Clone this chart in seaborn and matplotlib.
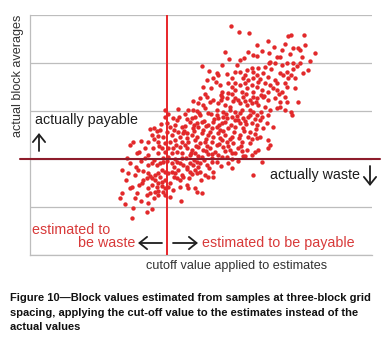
"""Block values estimated vs actual, cut-off applied to estimates."""

import matplotlib

matplotlib.use("Agg")
import matplotlib.pyplot as plt
from matplotlib.patches import FancyArrowPatch
import pandas as pd
import seaborn as sns

W, H = 389, 343
CUTOFF = 20
GRID_TICKS = [0, 10, 20, 30, 40, 50]

# estimated (x) and actual (y) block values, read off the picture region by region
est_lower_left = [14.6, 15.5, 13.5, 14.3, 15.8, 17.3, 17.8, 18.6, 19.0, 19.4, 20.0, 20.8, 21.5, 21.9, 22.4,
                  17.3, 17.5, 17.1, 17.8, 18.3, 18.7, 19.3, 19.7, 20.2, 20.8, 21.2, 21.6, 22.2,
                  16.5, 16.4, 18.3, 18.7, 19.3, 19.7, 20.5, 21.5, 21.9, 22.4,
                  14.9, 14.6, 17.8, 18.6, 19.3, 19.7, 20.2, 18.7, 19.4, 18.3, 17.5,
                  13.5, 15.6, 17.1, 13.2, 18.7, 19.7, 15.4, 17.3, 22.1, 15.1, 17.1, 14.9]
act_lower_left = [19.2, 18.3, 17.7, 17.1, 17.7, 18.8, 19.2, 18.8, 19.2, 19.4, 19.6, 19.2, 19.4, 19.2, 18.8,
                  17.1, 16.5, 16.0, 16.0, 16.7, 17.1, 17.7, 17.3, 17.1, 17.3, 17.1, 17.7, 16.7,
                  15.6, 15.0, 15.6, 15.0, 15.2, 15.6, 15.0, 16.0, 15.6, 16.3,
                  14.2, 14.0, 14.6, 14.2, 14.4, 14.0, 14.2, 13.3, 13.1, 13.1, 12.9,
                  12.9, 12.9, 12.5, 11.9, 12.5, 12.5, 11.9, 10.8, 11.3, 9.8, 9.0, 7.7]

est_lower_mid = [23.0, 23.4, 23.8, 24.4, 24.9, 24.6, 24.1, 23.4, 24.4, 24.9, 23.7, 25.9, 26.6, 27.3, 28.9,
                 25.6, 26.0, 26.8, 23.0, 23.1, 24.1, 24.4, 25.1, 32.6, 33.9, 31.4]
act_lower_mid = [18.3, 19.2, 18.8, 19.4, 19.2, 18.3, 17.7, 17.3, 17.1, 17.3, 16.9, 18.8, 19.4, 19.4, 19.2,
                 16.7, 16.3, 16.3, 14.6, 14.0, 14.0, 13.1, 12.9, 16.7, 19.4, 20.6]

est_lower_fill = [21.0, 22.9, 24.0, 25.4, 26.2, 27.9, 29.6, 23.2, 25.0, 21.0, 19.0, 16.5, 15.3, 16.0,
                  17.2, 20.9, 22.0, 16.2, 18.2, 20.5, 14.0, 13.9, 16.2, 18.1, 21.2, 26.8, 30.4, 17.8]
act_lower_fill = [18.4, 18.0, 19.8, 19.7, 18.1, 18.6, 18.2, 16.0, 15.6, 16.2, 16.3, 17.4, 16.7, 14.6,
                  13.9, 13.6, 14.2, 11.2, 11.8, 12.0, 15.6, 10.6, 19.6, 19.8, 20.0, 17.2, 19.6, 9.5]

est_mid_left = [19.7, 21.6, 19.7, 20.9, 21.5, 18.1, 18.6, 19.0, 20.5, 21.2, 22.2,
                17.8, 18.7, 19.4, 20.8, 21.6, 22.4, 17.3, 18.7, 19.7, 20.5, 21.2, 22.2,
                14.6, 15.1, 16.8, 18.0, 19.3, 20.2, 20.9, 21.9,
                18.7, 19.7, 20.8, 21.5, 22.2, 14.2, 16.8, 19.4, 20.2, 22.2,
                16.0, 17.3, 18.1, 19.2, 20.0, 21.0, 22.0, 17.6, 20.2, 21.8, 18.9, 16.3, 21.4, 20.1, 15.6]
act_mid_left = [30.2, 30.4, 28.8, 28.5, 28.1, 26.5, 25.8, 26.0, 26.7, 27.1, 26.7,
                25.0, 24.8, 24.6, 25.0, 25.6, 25.4, 23.5, 23.5, 23.3, 23.5, 24.0, 23.5,
                22.9, 23.5, 22.3, 22.3, 22.3, 22.3, 22.3, 22.5,
                21.3, 21.5, 21.3, 21.5, 21.3, 20.2, 20.2, 20.2, 20.4, 20.2,
                21.5, 20.9, 24.2, 27.3, 25.7, 26.0, 24.6, 26.3, 29.4, 28.8, 22.8, 23.8, 23.0, 27.5, 21.3]

est_center = [24.9, 25.9, 26.8, 28.1, 28.8, 30.0, 30.4, 31.1, 32.2, 32.6,
              24.6, 25.3, 27.5, 28.5, 29.2, 30.7, 31.7, 32.5,
              23.1, 23.8, 24.4, 25.6, 27.3, 28.2, 29.2, 30.0, 31.0, 32.2, 32.6,
              23.7, 24.1, 24.9, 26.0, 27.3, 27.5, 28.2, 28.8, 29.5, 30.3, 31.1, 31.9,
              23.4, 24.4, 25.1, 26.0, 26.8, 28.1, 28.5, 30.4, 30.7, 32.5,
              23.8, 24.6, 25.3, 26.6, 27.3, 27.8, 28.9, 30.0, 31.1, 32.2,
              23.0, 23.7, 24.4, 25.1, 26.0, 26.8, 27.5, 28.5, 29.5, 30.7, 31.9,
              23.1, 24.1, 24.9, 25.6, 26.6, 27.3, 28.1, 28.8, 29.7, 31.0, 32.2,
              23.0, 23.7, 24.6, 25.3, 26.3, 27.0, 28.2, 29.2, 30.4, 31.7,
              23.4, 24.1, 25.1, 26.0, 27.5, 28.8, 30.0, 32.5]
act_center = [32.7, 32.9, 32.3, 32.9, 32.7, 32.7, 32.3, 32.9, 32.3, 32.9,
              31.7, 31.3, 31.7, 31.3, 30.8, 31.7, 31.3, 31.7,
              30.2, 30.2, 30.0, 30.6, 30.2, 29.8, 30.2, 29.8, 30.2, 30.2, 29.8,
              28.5, 28.8, 29.2, 29.6, 29.2, 28.5, 28.8, 28.5, 28.8, 29.0, 28.5, 28.8,
              27.7, 27.5, 27.7, 27.1, 27.7, 27.5, 27.7, 28.1, 27.5, 27.5,
              26.5, 26.7, 26.0, 26.5, 26.7, 26.0, 26.5, 26.7, 26.5, 25.6,
              25.4, 25.0, 24.6, 25.4, 25.0, 24.6, 25.4, 25.0, 24.6, 25.0, 24.6,
              23.5, 24.0, 23.3, 23.5, 23.5, 22.9, 24.0, 23.5, 23.3, 23.5, 23.3,
              22.3, 21.9, 22.5, 21.9, 22.3, 21.5, 22.5, 21.9, 22.3, 21.9,
              20.8, 21.3, 20.4, 21.0, 20.8, 20.4, 21.3, 20.8]

est_center_fill = [25.6, 27.9, 29.6, 33.8,
                   23.9, 26.3, 27.9, 29.7, 31.4, 33.0,
                   22.6, 24.7, 26.5, 28.6, 30.7, 32.2, 33.7,
                   22.9, 25.5, 26.9, 29.9, 31.5, 32.9,
                   22.7, 24.0, 25.7, 27.6, 29.4, 31.6, 33.0,
                   22.5, 24.0, 26.3, 28.2, 29.8, 31.3, 32.9,
                   22.9, 25.7, 27.8, 29.2, 30.6, 32.4,
                   22.6, 24.2, 25.9, 27.6, 28.9, 30.8,
                   23.6, 25.8, 26.6, 28.5, 29.6, 31.0, 33.3,
                   22.8, 24.6, 26.6, 28.0, 29.5, 31.2]
act_center_fill = [33.5, 33.3, 33.6, 33.4,
                   32.1, 31.9, 32.2, 32.0, 32.1, 31.8,
                   29.3, 29.5, 29.3, 29.4, 29.6, 29.1, 29.8,
                   28.3, 28.0, 28.3, 28.2, 28.0, 28.4,
                   26.9, 27.1, 26.8, 27.1, 27.0, 27.2, 26.3,
                   25.8, 25.9, 25.7, 25.9, 25.6, 25.8, 25.2,
                   24.3, 24.2, 24.4, 24.1, 24.3, 24.2,
                   22.9, 22.7, 22.8, 23.1, 22.7, 22.8,
                   21.2, 21.7, 21.1, 21.6, 21.2, 21.6, 21.9,
                   20.3, 20.6, 20.2, 20.5, 20.0, 20.7]

est_mid_right = [33.2, 34.1, 34.8, 35.8, 36.5, 37.3, 37.6, 39.2,
                 33.3, 34.4, 35.1, 36.1, 36.5, 37.3, 38.2, 38.3,
                 33.2, 33.9, 34.8, 33.6, 34.6, 35.5, 33.2, 34.1,
                 33.6, 33.2, 34.8, 35.1, 34.8, 32.9]
act_mid_right = [32.7, 32.9, 32.3, 32.7, 31.9, 32.9, 31.9, 31.9,
                 31.3, 30.8, 30.2, 30.6, 30.8, 30.2, 29.8, 29.2,
                 29.2, 28.8, 29.2, 28.1, 27.5, 26.7, 27.1, 26.5,
                 24.6, 24.4, 24.0, 22.9, 22.3, 21.5]

est_upper_mid = [29.4, 30.6, 32.0, 28.5, 31.9, 32.6, 25.1, 30.3, 30.7,
                 27.3, 27.5, 28.8, 30.0, 30.7, 31.7, 32.5,
                 25.9, 26.8, 29.5, 31.1, 31.9, 32.6,
                 25.3, 27.8, 30.0, 30.7, 31.4, 32.5,
                 28.1, 28.9, 30.0, 31.0, 31.7, 32.6]
act_upper_mid = [47.7, 46.5, 46.3, 42.3, 42.3, 41.7, 39.4, 39.6, 40.6,
                 37.9, 37.5, 37.7, 38.1, 38.1, 38.5, 39.0,
                 36.5, 36.9, 36.9, 36.9, 36.5, 36.9,
                 35.0, 35.4, 35.8, 35.4, 35.8, 35.4,
                 34.0, 33.8, 34.4, 34.0, 34.8, 34.0]

est_upper_right = [37.7, 38.2, 40.1, 34.8, 37.3, 33.2, 38.5, 39.2, 39.5, 41.7, 34.9, 39.8,
                   33.2, 36.1, 36.5, 35.1, 35.8, 37.6, 38.5, 39.5, 40.9,
                   33.3, 34.4, 36.5, 37.6, 38.5, 40.6,
                   33.2, 34.1, 34.8, 35.8, 37.0, 37.7, 38.7,
                   33.3, 34.4, 35.1, 36.1, 37.3, 38.7,
                   33.9, 34.8, 36.1, 36.8]
act_upper_right = [45.6, 45.8, 45.8, 44.6, 44.0, 43.8, 43.1, 43.1, 42.7, 42.1, 42.1, 41.3,
                   41.5, 41.3, 41.3, 40.2, 40.0, 40.0, 40.0, 40.0, 40.4,
                   39.0, 39.2, 37.9, 38.1, 38.8, 38.5,
                   37.5, 37.9, 37.1, 36.5, 37.5, 36.9, 36.9,
                   36.0, 35.8, 35.4, 35.8, 35.8, 34.8,
                   34.4, 34.0, 34.4, 34.0]

est_upper_fill = [26.2, 28.0, 29.1, 31.3, 33.9, 35.6, 36.8, 38.0, 39.1, 27.2, 29.0, 31.4, 33.6, 35.2,
                  36.8, 38.2, 39.9, 26.4, 29.5, 33.2, 35.5, 37.6, 36.4, 34.2, 31.6, 40.2, 32.6, 34.9]
act_upper_fill = [38.3, 39.5, 40.9, 41.1, 42.6, 43.3, 42.7, 41.9, 39.4, 36.1, 35.9, 37.4, 36.6, 38.7,
                  39.5, 37.4, 37.9, 34.8, 34.9, 35.1, 34.8, 35.1, 33.6, 33.2, 33.5, 43.8, 38.2, 40.1]

CAPTION_LINES = [
    "Figure 10\u2014Block values estimated from samples at three-block grid",
    "spacing, applying the cut-off value to the estimates instead of the",
    "actual values",
]

RED = "#e2292b"
DARK = "#1e1e1e"
GRID = "#bdbdbd"


def fpos(px, py):
    # pixel position in the picture -> figure fraction
    return px / W, 1 - py / H


def main() -> None:
    df = pd.DataFrame({
        "estimate": est_lower_left + est_lower_mid + est_lower_fill + est_mid_left
        + est_center + est_center_fill + est_mid_right + est_upper_mid
        + est_upper_right + est_upper_fill,
        "actual": act_lower_left + act_lower_mid + act_lower_fill + act_mid_left
        + act_center + act_center_fill + act_mid_right + act_upper_mid
        + act_upper_right + act_upper_fill,
    })

    sns.set_style("white")
    plt.rcParams["font.family"] = ["Liberation Sans", "DejaVu Sans"]

    fig = plt.figure(figsize=(W / 100, H / 100), dpi=100)
    ax = fig.add_axes([30 / W, (H - 255) / H, 342 / W, 240 / H])

    ax.axvline(CUTOFF, color="#e8252a", lw=1.4, zorder=3)
    ax.plot([-1.5, 51.2], [CUTOFF, CUTOFF], color="#8e1c2b", lw=1.5,
            clip_on=False, zorder=3)
    sns.scatterplot(data=df, x="estimate", y="actual", ax=ax, color=RED,
                    s=10, linewidth=0, zorder=2)

    ax.set_xlim(0, 50)
    ax.set_ylim(0, 50)
    ax.set_xticks(GRID_TICKS)
    ax.set_yticks(GRID_TICKS)
    ax.set_xticklabels([])
    ax.set_yticklabels([])
    ax.set_xlabel("")
    ax.set_ylabel("")
    ax.yaxis.grid(True, color=GRID, lw=0.9)
    ax.tick_params(length=2.5, width=0.8, color=GRID)
    for side in ["top", "right"]:
        ax.spines[side].set_visible(False)
    for side in ["left", "bottom"]:
        ax.spines[side].set_color(GRID)
        ax.spines[side].set_linewidth(0.9)

    fig.text(*fpos(18, 76), "actual block averages", rotation=90,
             ha="center", va="center", fontsize=9.1, color="#333333")
    fig.text(*fpos(146, 266), "cutoff value applied to estimates",
             ha="left", va="center", fontsize=9.1, color="#333333")

    fig.text(*fpos(35, 120), "actually payable", ha="left", va="center",
             fontsize=10.3, color=DARK)
    fig.text(*fpos(270, 175), "actually waste", ha="left", va="center",
             fontsize=10.3, color=DARK)
    fig.text(*fpos(32, 230), "estimated to", ha="left", va="center",
             fontsize=10.3, color="#d83a3a")
    fig.text(*fpos(78, 243), "be waste", ha="left", va="center",
             fontsize=10.3, color="#d83a3a")
    fig.text(*fpos(202, 243), "estimated to be payable", ha="left", va="center",
             fontsize=10.3, color="#d83a3a")

    arrow = dict(arrowstyle="->,head_length=0.25,head_width=0.2", lw=1.3,
                 color=DARK, mutation_scale=22, shrinkA=0, shrinkB=0)
    for start, end in [((39, 151), (39, 133)), ((370, 166), (370, 186)),
                       ((162, 243), (138, 243)), ((173, 243), (198, 243))]:
        fig.add_artist(FancyArrowPatch(fpos(*start), fpos(*end),
                                       transform=fig.transFigure, **arrow))

    for i, line in enumerate(CAPTION_LINES):
        fig.text(*fpos(10, 298 + 14.5 * i), line, ha="left", va="center",
                 fontsize=8.0, fontweight="bold", color="#111111")

    fig.savefig("out.png", dpi=100)
    plt.close(fig)


if __name__ == "__main__":
    main()
